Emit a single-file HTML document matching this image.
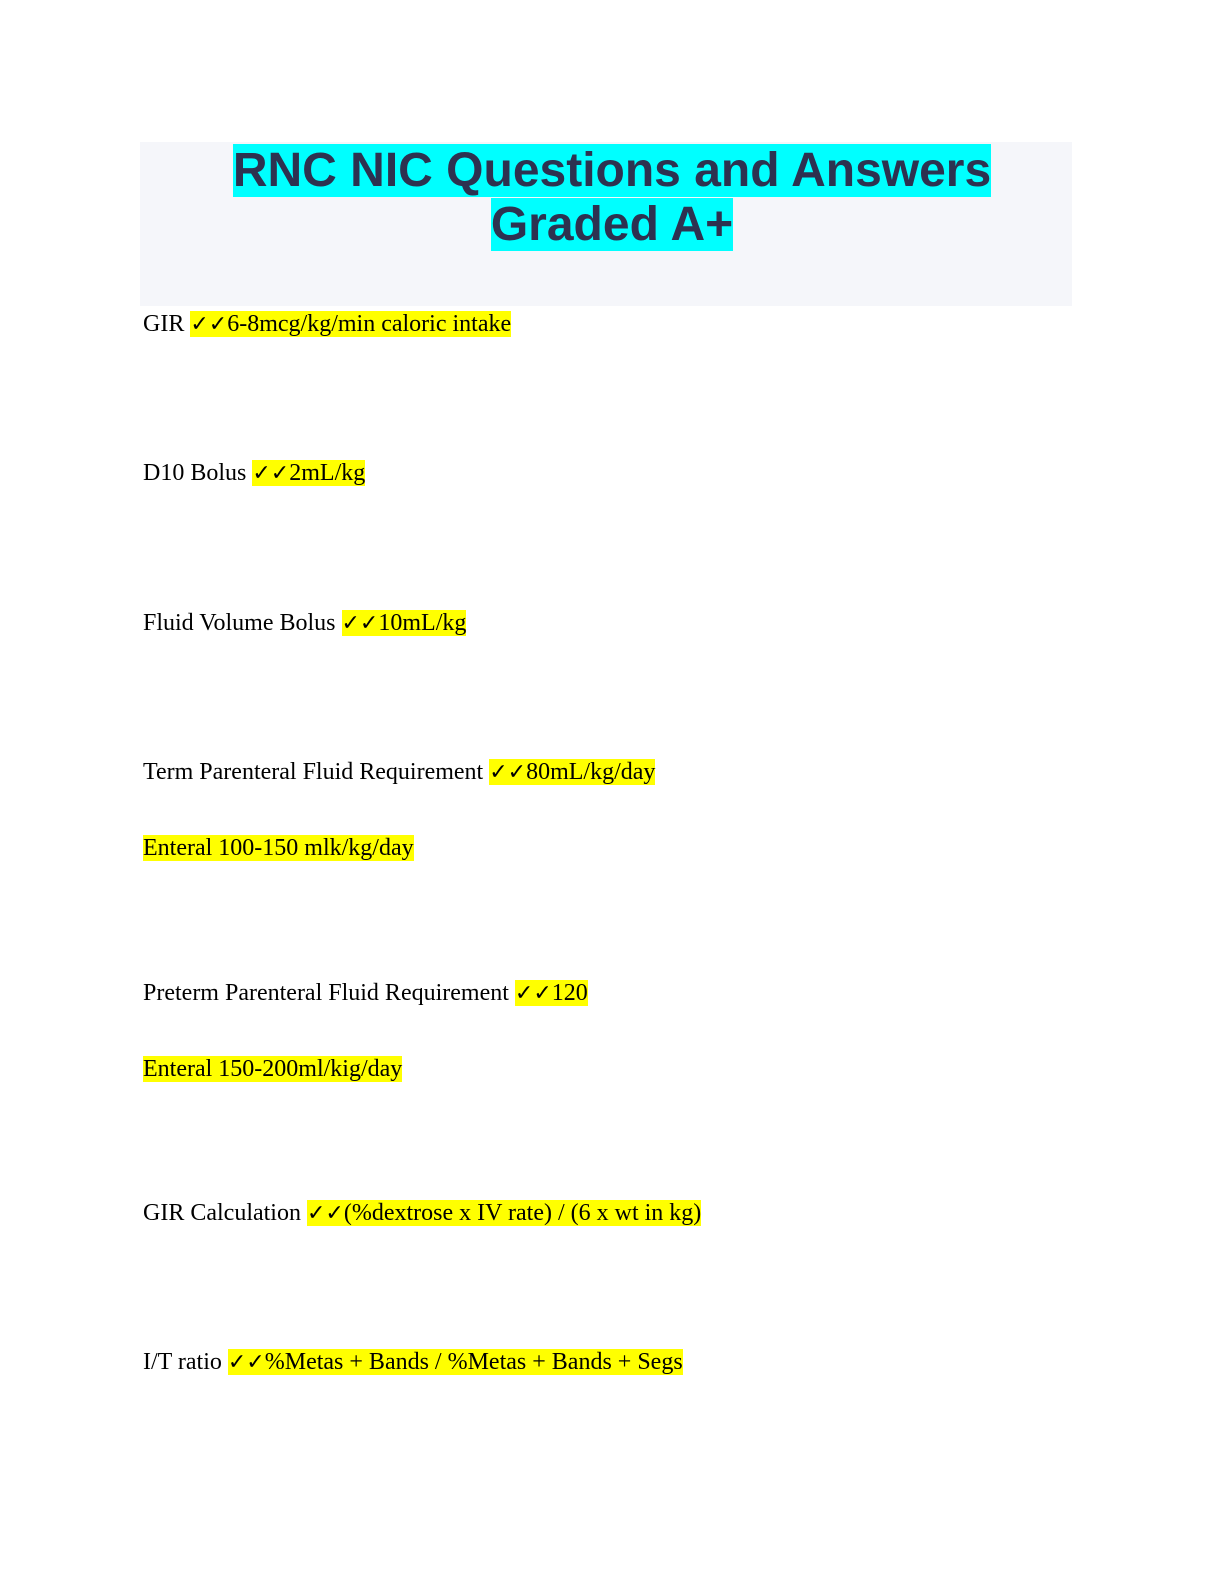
<!DOCTYPE html>
<html><head><meta charset="utf-8"><style>
body{margin:0;background:#fff;width:1224px;height:1584px;position:relative;overflow:hidden}
.box{position:absolute;left:140px;top:142px;width:932px;height:164px;background:#f5f6fa}
.t{position:absolute;left:0;width:1224px;text-align:center;font:bold 48px/54px "Liberation Sans",Arial,sans-serif;color:#2d3250}
.t span{background:#00ffff}
.l{position:absolute;left:143px;font:24px/31px "Liberation Serif","DejaVu Serif",serif;color:#000;white-space:nowrap}
.h{background:#ffff00}
.c{font-family:"DejaVu Sans",sans-serif;font-size:22px;font-weight:bold}
</style></head><body>
<div class="box"></div>
<div class="t" style="top:144px"><span>RNC NIC Questions and Answers</span></div>
<div class="t" style="top:198px"><span>Graded A+</span></div>
<div class="l" style="top:309px">GIR <span class="h"><span class="c">✓✓</span>6-8mcg/kg/min caloric intake</span></div>
<div class="l" style="top:458px">D10 Bolus <span class="h"><span class="c">✓✓</span>2mL/kg</span></div>
<div class="l" style="top:608px">Fluid Volume Bolus <span class="h"><span class="c">✓✓</span>10mL/kg</span></div>
<div class="l" style="top:757px">Term Parenteral Fluid Requirement <span class="h"><span class="c">✓✓</span>80mL/kg/day</span></div>
<div class="l" style="top:833px"><span class="h">Enteral 100-150 mlk/kg/day</span></div>
<div class="l" style="top:978px">Preterm Parenteral Fluid Requirement <span class="h"><span class="c">✓✓</span>120</span></div>
<div class="l" style="top:1054px"><span class="h">Enteral 150-200ml/kig/day</span></div>
<div class="l" style="top:1198px">GIR Calculation <span class="h"><span class="c">✓✓</span>(%dextrose x IV rate) / (6 x wt in kg)</span></div>
<div class="l" style="top:1347px">I/T ratio <span class="h"><span class="c">✓✓</span>%Metas + Bands / %Metas + Bands + Segs</span></div>
</body></html>
